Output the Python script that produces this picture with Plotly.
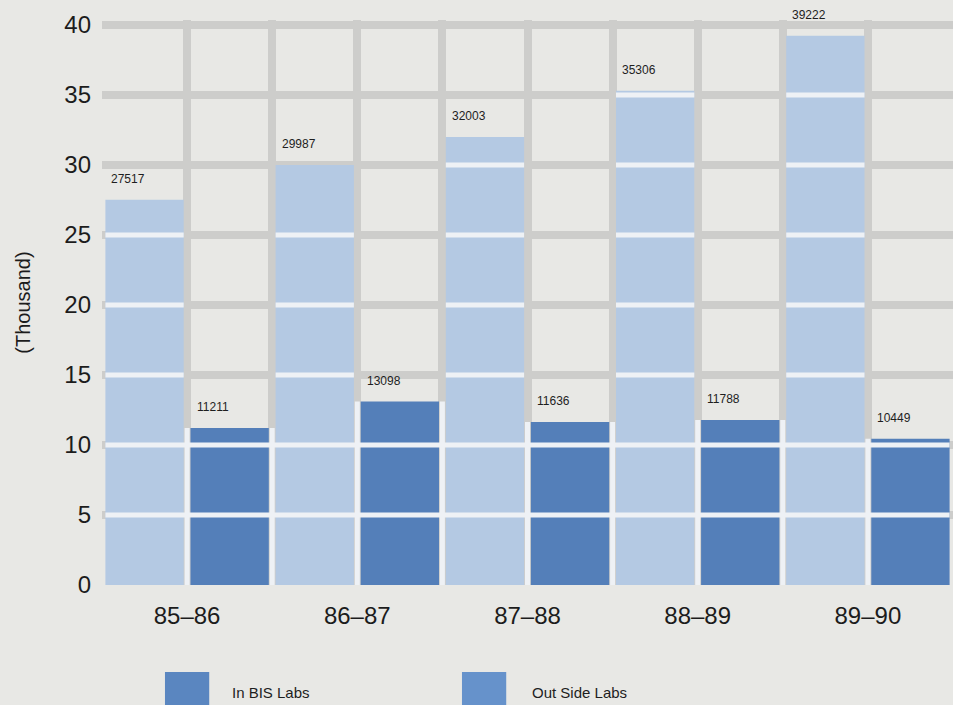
import numpy as np
import plotly.graph_objects as go

# ---- data ----
years = ["85–86", "86–87", "87–88", "88–89", "89–90"]
outside_labs = [27517, 29987, 32003, 35306, 39222]   # Out Side Labs
in_bis_labs = [11211, 13098, 11636, 11788, 10449]    # In BIS Labs
y_ticks = [0, 5, 10, 15, 20, 25, 30, 35, 40]

# ---- styles ----
LIGHT = "#b4c9e3"
DARK = "#547fb9"
BG = "#e8e8e5"
GRID = "#cdcdcb"
SEP = "#eef1f5"
FONT = "Liberation Sans, Arial, Helvetica, sans-serif"

pos = np.arange(len(years))
bw = 0.46
x_out = pos - 0.25
x_in = pos + 0.25
h_out = np.array(outside_labs) / 1000.0
h_in = np.array(in_bis_labs) / 1000.0

fig = go.Figure()
fig.add_bar(x=x_out, y=h_out, width=bw, marker=dict(color=LIGHT, line=dict(width=0)),
            name="Out Side Labs", hovertemplate="%{y:.3f}k<extra>Out Side Labs</extra>")
fig.add_bar(x=x_in, y=h_in, width=bw, marker=dict(color=DARK, line=dict(width=0)),
            name="In BIS Labs", hovertemplate="%{y:.3f}k<extra>In BIS Labs</extra>")

# ---- white separators across bars (derived from bar positions / heights) ----
seq_x, seq_h = [], []
for i in range(len(years)):
    seq_x += [x_out[i], x_in[i]]
    seq_h += [h_out[i], h_in[i]]
sx, sy = [], []
for j, (xc, h) in enumerate(zip(seq_x, seq_h)):
    left_h = seq_h[j - 1] if j > 0 else -1
    right_h = seq_h[j + 1] if j + 1 < len(seq_h) else -1
    for k in y_ticks[1:]:
        if k < h - 0.3:
            x0 = xc - 0.25 if left_h > k else xc - bw / 2
            x1 = xc + 0.25 if right_h > k else xc + bw / 2
            sx += [x0, x1, None]
            sy += [k, k, None]
for j in range(len(seq_x) - 1):
    xb = (seq_x[j] + seq_x[j + 1]) / 2
    top = min(seq_h[j], seq_h[j + 1])
    sx += [xb, xb, None]
    sy += [0, top, None]
fig.add_scatter(x=sx, y=sy, mode="lines", line=dict(color=SEP, width=5),
                hoverinfo="skip", showlegend=False)

# ---- value labels ----
for xc, v in list(zip(x_out, outside_labs)) + list(zip(x_in, in_bis_labs)):
    fig.add_annotation(x=xc - bw / 2, y=v / 1000.0, text=str(v), showarrow=False,
                       xanchor="left", yanchor="bottom", xshift=4, yshift=12,
                       font=dict(family=FONT, size=12, color="#1e1e1e"))

# ---- manual legend ----
legend_items = [("In BIS Labs", "#5a86c0", 0.074, 0.150),
                ("Out Side Labs", "#6692cb", 0.423, 0.503)]
for label, col, xs, xt in legend_items:
    fig.add_shape(type="rect", xref="paper", yref="paper", x0=xs, x1=xs + 0.052,
                  y0=-0.225, y1=-0.154, fillcolor=col, line=dict(width=0))
    fig.add_annotation(xref="paper", yref="paper", x=xt, y=-0.19, text=label,
                       showarrow=False, xanchor="left", yanchor="middle",
                       font=dict(family=FONT, size=15, color="#1e1e1e"))

fig.update_layout(
    width=953, height=705,
    margin=dict(l=102, r=0, t=20, b=120),
    paper_bgcolor=BG, plot_bgcolor=BG,
    barmode="overlay", showlegend=False,
    font=dict(family=FONT, color="#1c1c1c"),
    xaxis=dict(range=[-0.5, 4.5], tickmode="array", tickvals=list(pos), ticktext=years,
               showgrid=True, gridcolor=GRID, gridwidth=8,
               minor=dict(tickmode="array", tickvals=list(pos[:-1] + 0.5),
                          showgrid=True, gridcolor=GRID, gridwidth=8, ticks=""),
               zeroline=False, showline=False, ticks="",
               tickfont=dict(size=24, color="#1c1c1c"), ticklabelstandoff=14),
    yaxis=dict(range=[0, 40.35], tickmode="array", tickvals=y_ticks,
               showgrid=False,
               minor=dict(tickmode="array", tickvals=y_ticks[1:], showgrid=True,
                          gridcolor=GRID, gridwidth=8, ticks=""),
               zeroline=False, showline=False, ticks="",
               tickfont=dict(size=24, color="#1c1c1c"), ticklabelstandoff=10,
               title=dict(text="(Thousand)", font=dict(size=20, color="#1c1c1c"),
                          standoff=28)),
)

fig.write_html("out.html")
